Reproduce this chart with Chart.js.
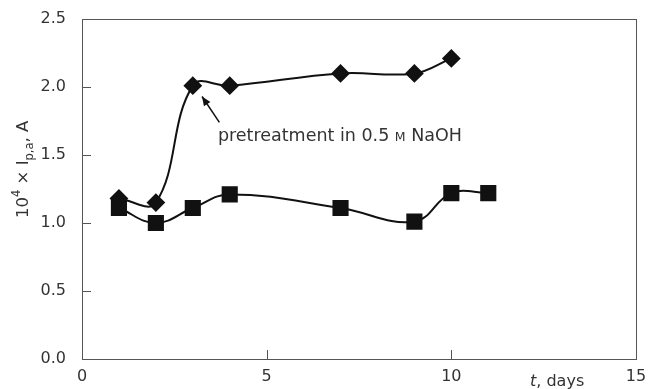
<!DOCTYPE html>
<html>
<head>
<meta charset="utf-8">
<script src="https://cdn.jsdelivr.net/npm/chart.js@4"></script>
<style>
  html, body { margin: 0; padding: 0; background: #fff; }
  #wrap { width: 648px; height: 389px; position: relative; }
</style>
</head>
<body>
<div id="wrap"><canvas id="chart"></canvas></div>
<script>
// data
var naohDays = [1, 2, 3, 4, 7, 9, 10];
var naohVals = [1.18, 1.15, 2.01, 2.01, 2.10, 2.10, 2.21];
var plainDays = [1, 2, 3, 4, 7, 9, 10, 11];
var plainVals = [1.11, 1.00, 1.11, 1.21, 1.11, 1.01, 1.22, 1.22];
var xTicks = [0, 5, 10, 15];
var yTicks = [0, 0.5, 1.0, 1.5, 2.0, 2.5];

var ink = '#333';
var fontFam = '"DejaVu Sans", sans-serif';

function pts(xs, ys) {
  var out = [];
  for (var i = 0; i < xs.length; i++) out.push({x: xs[i], y: ys[i]});
  return out;
}

// box, inward ticks, axis titles, annotation
var decor = {
  id: 'decor',
  afterDraw: function(chart) {
    var c = chart.ctx, a = chart.chartArea;
    var xs = chart.scales.x, ys = chart.scales.y;
    c.save();
    c.strokeStyle = '#555';
    c.lineWidth = 1;
    c.strokeRect(Math.round(a.left) + 0.5, Math.round(a.top) + 0.5,
      Math.round(a.right - a.left), Math.round(a.bottom - a.top));
    c.beginPath();
    yTicks.forEach(function(v) {
      var py = Math.round(ys.getPixelForValue(v)) + 0.5;
      c.moveTo(a.left, py); c.lineTo(a.left + 9, py);
    });
    xTicks.forEach(function(v) {
      var px = Math.round(xs.getPixelForValue(v)) + 0.5;
      c.moveTo(px, a.bottom); c.lineTo(px, a.bottom - 9);
    });
    c.stroke();

    c.fillStyle = ink;
    // x title
    c.textBaseline = 'alphabetic';
    c.textAlign = 'left';
    c.font = 'italic 16px ' + fontFam;
    var tx = 530, ty = 386;
    c.fillText('t', tx, ty);
    tx += c.measureText('t').width;
    c.font = '16px ' + fontFam;
    c.fillText(', days', tx, ty);

    // y title, rotated
    c.save();
    c.translate(28, 218);
    c.rotate(-Math.PI / 2);
    var x = 0;
    function put(s, size, dy) {
      c.font = size + 'px ' + fontFam;
      c.fillText(s, x, dy);
      x += c.measureText(s).width;
    }
    put('10', 16.5, 0);
    put('4', 11.5, -8);
    put(' \u00d7 I', 16.5, 0);
    put('p,a', 11.5, 5);
    put(', A', 16.5, 0);
    c.restore();

    // annotation with arrow
    var ax = xs.getPixelForValue(3.72), ay = ys.getPixelForValue(1.74);
    var hx = xs.getPixelForValue(3.25), hy = ys.getPixelForValue(1.93);
    c.strokeStyle = '#111';
    c.lineWidth = 1.5;
    c.beginPath();
    c.moveTo(ax, ay); c.lineTo(hx, hy);
    c.stroke();
    var ang = Math.atan2(hy - ay, hx - ax);
    c.fillStyle = '#111';
    c.beginPath();
    c.moveTo(hx, hy);
    c.lineTo(hx - 10 * Math.cos(ang - 0.4), hy - 10 * Math.sin(ang - 0.4));
    c.lineTo(hx - 10 * Math.cos(ang + 0.4), hy - 10 * Math.sin(ang + 0.4));
    c.closePath();
    c.fill();

    c.fillStyle = ink;
    var lx = xs.getPixelForValue(3.68), ly = ys.getPixelForValue(1.60);
    x = 0;
    c.save();
    c.translate(lx, ly);
    put('pretreatment in 0.5 ', 17.5, 0);
    put('M', 12.5, 0);
    put(' NaOH', 17.5, 0);
    c.restore();
    c.restore();
  }
};

new Chart(document.getElementById('chart'), {
  type: 'line',
  data: {
    datasets: [{
      label: 'pretreatment in 0.5 M NaOH',
      data: pts(naohDays, naohVals),
      borderColor: '#111',
      backgroundColor: '#111',
      borderWidth: 2,
      tension: 0.4,
      pointStyle: 'rectRot',
      pointRadius: 8,
      pointHoverRadius: 8
    }, {
      label: 'untreated',
      data: pts(plainDays, plainVals),
      borderColor: '#111',
      backgroundColor: '#111',
      borderWidth: 2,
      tension: 0.4,
      pointStyle: 'rect',
      pointRadius: 10,
      pointHoverRadius: 10
    }]
  },
  options: {
    responsive: true,
    maintainAspectRatio: false,
    animation: false,
    layout: { padding: { left: 0, right: 11, top: 19, bottom: 0 } },
    plugins: { legend: { display: false }, tooltip: { enabled: false } },
    scales: {
      x: {
        type: 'linear', min: 0, max: 15,
        afterBuildTicks: function(s) { s.ticks = xTicks.map(function(v) { return {value: v}; }); },
        afterFit: function(s) { s.height = 30; },
        grid: { display: false },
        border: { display: false },
        ticks: { color: ink, font: { size: 16, family: fontFam }, padding: 0,
          callback: function(v) { return v; } }
      },
      y: {
        min: 0, max: 2.5,
        afterBuildTicks: function(s) { s.ticks = yTicks.map(function(v) { return {value: v}; }); },
        afterFit: function(s) { s.width = 82; },
        grid: { display: false },
        border: { display: false },
        ticks: { color: ink, font: { size: 16, family: fontFam }, padding: 8,
          callback: function(v) { return v.toFixed(1); } }
      }
    }
  },
  plugins: [decor]
});
</script>
</body>
</html>
